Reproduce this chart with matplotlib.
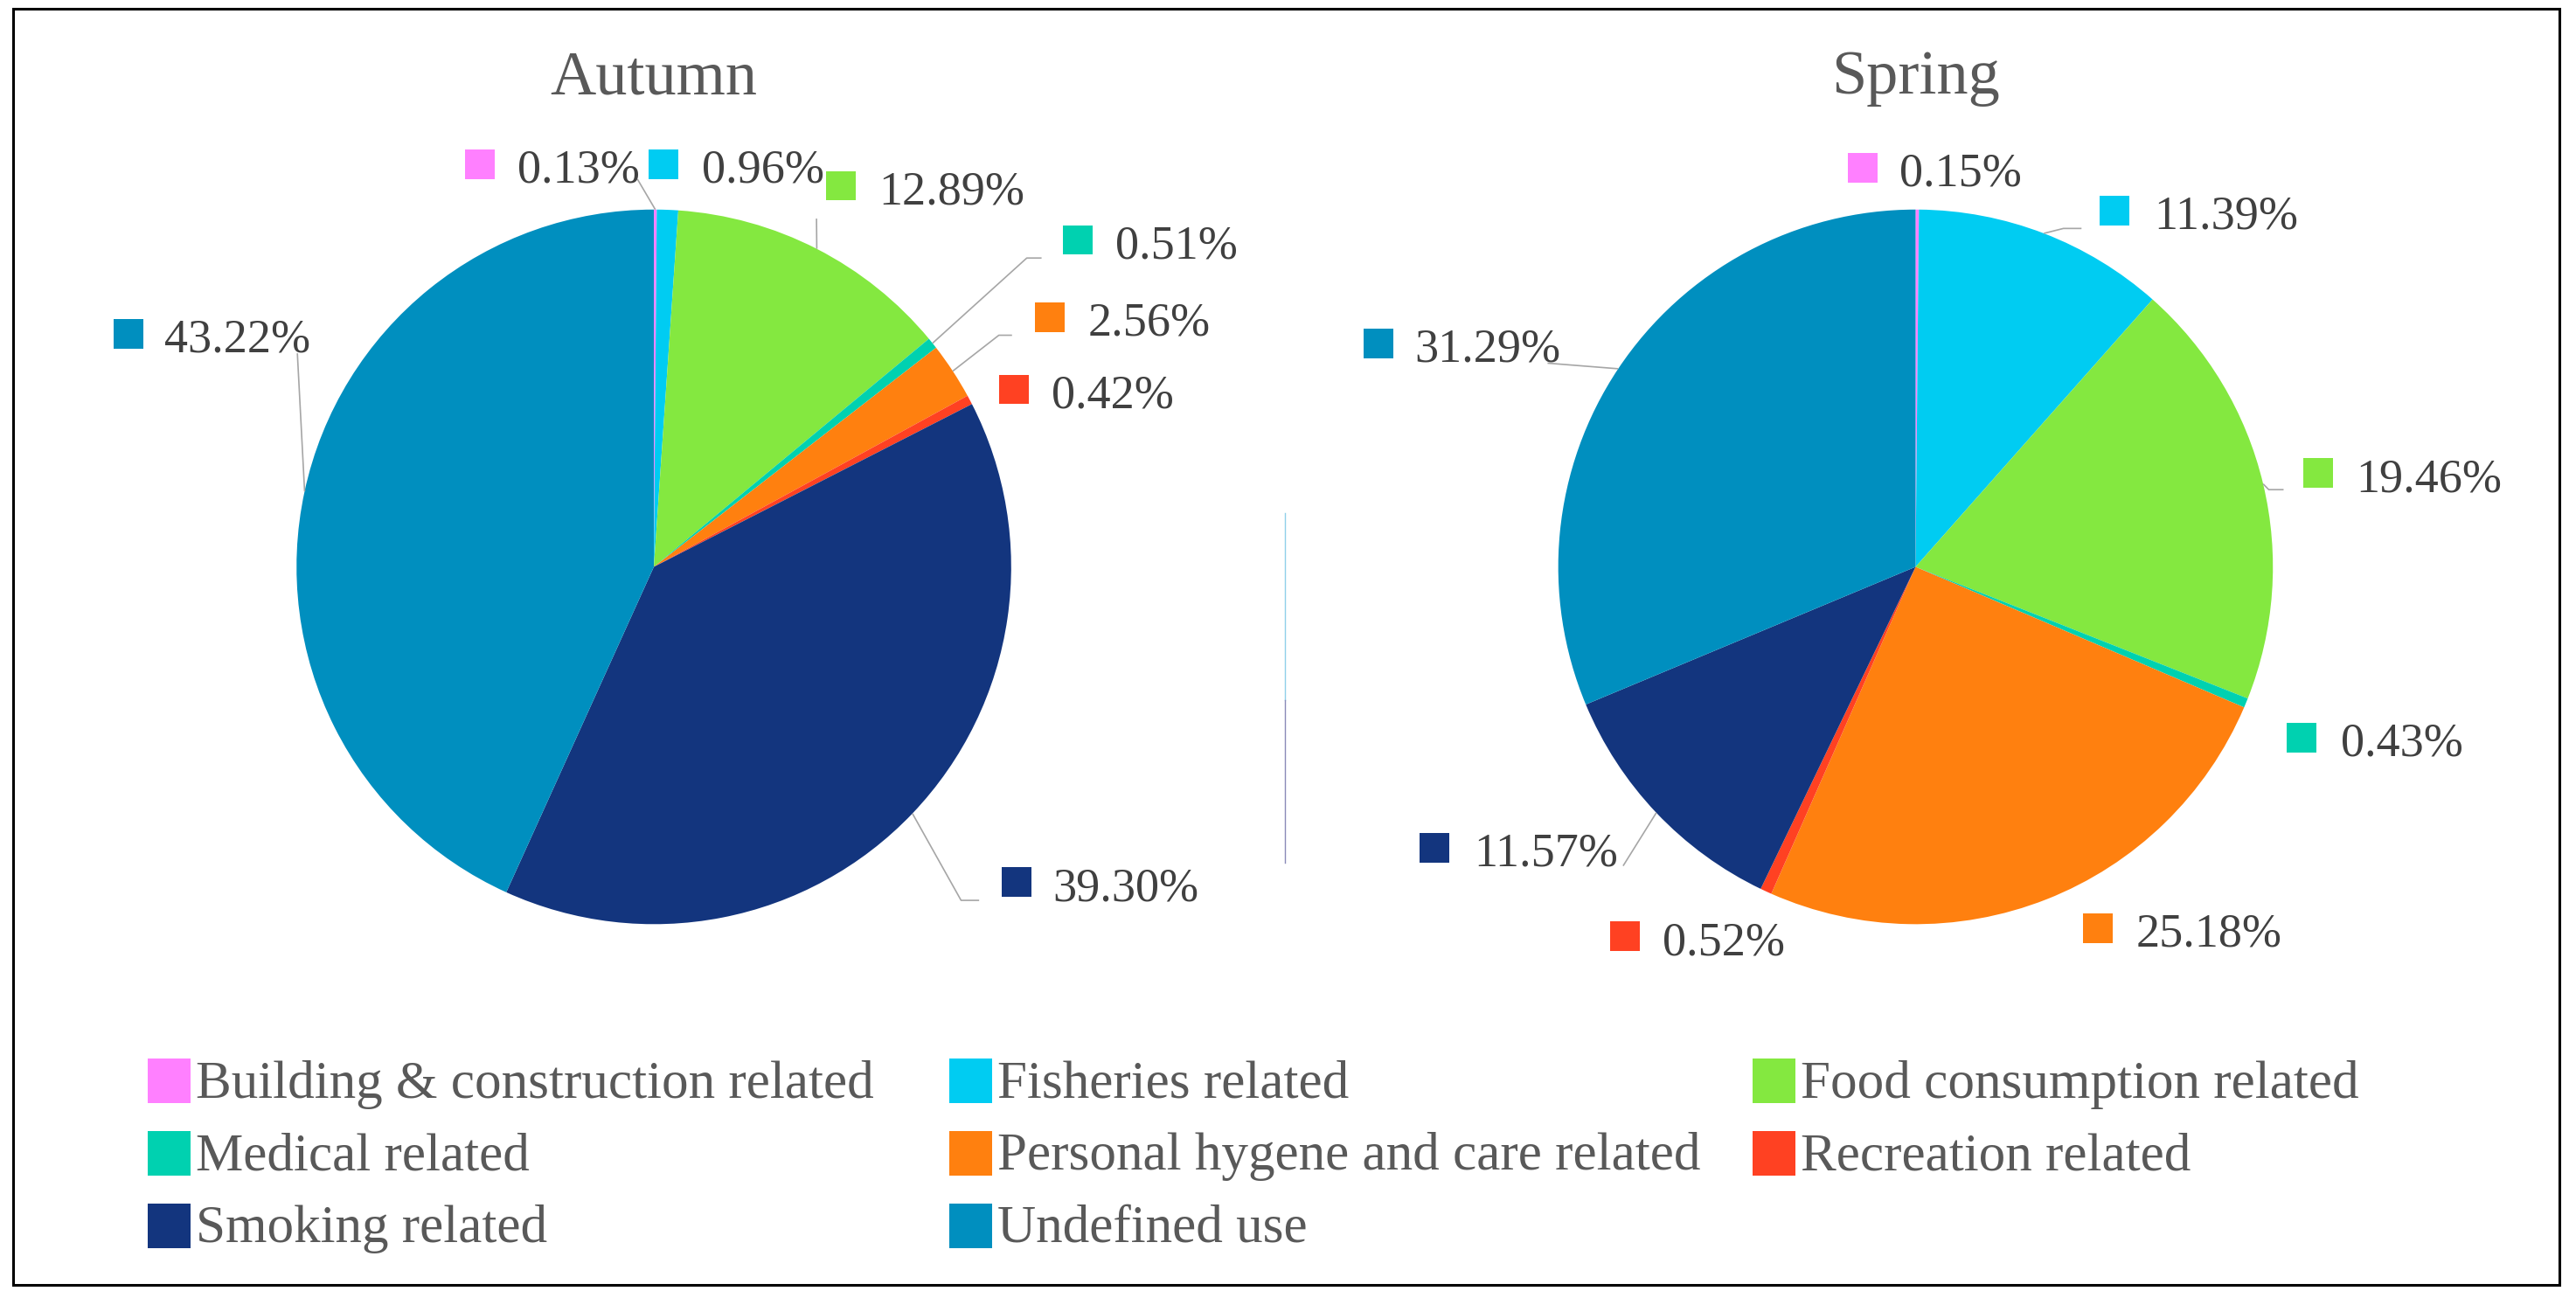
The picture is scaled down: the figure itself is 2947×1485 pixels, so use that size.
import matplotlib.pyplot as plt
from matplotlib.patches import Rectangle
import numpy as np

# ---- data ----
categories = ["Building & construction related", "Fisheries related",
              "Food consumption related", "Medical related",
              "Personal hygene and care related", "Recreation related",
              "Smoking related", "Undefined use"]
autumn = [0.13, 0.96, 12.89, 0.51, 2.56, 0.42, 39.30, 43.22]
spring = [0.15, 11.39, 19.46, 0.43, 25.18, 0.52, 11.57, 31.29]
seasons = ["Autumn", "Spring"]

colors = ["#FF80FF", "#00CCF2", "#84E840", "#00D1B0",
          "#FF800F", "#FF4122", "#13357E", "#008FBF"]

# ---- layout (units of a 1568 x 790 canvas, y measured from the top) ----
W, H = 1568, 790
FONT = "Liberation Serif"


def yy(y):
    return H - y


pie_centers = [(398, 345), (1166, 345)]
pie_radius = 217.5

# label placement: (marker left x, marker centre y, text x)
label_pos = [
    [(283, 100, 315), (395, 100, 427), (503, 113, 535), (647, 146, 679),
     (630, 193, 662), (608, 237, 640), (610, 537, 641), (69, 203, 100)],
    [(1125, 102, 1156), (1278, 128, 1311), (1402, 288, 1434), (1392, 449, 1425),
     (1268, 565, 1300), (980, 570, 1012), (864, 516, 897), (830, 209, 861)],
]
# leader lines: label-side points, the wedge edge point is added later
leaders = [
    {0: [(388, 109)], 2: [(497, 133)], 3: [(634, 157), (625, 157)],
     4: [(616, 204), (608, 204)], 6: [(596, 548), (585, 548)], 7: [(181, 215)]},
    {1: [(1267, 139), (1256, 139)], 2: [(1390, 298), (1381, 298)],
     6: [(988, 527)], 7: [(942, 221)]},
]

fig = plt.figure(figsize=(29.47, 14.85), dpi=100)
ax = fig.add_axes([0, 0, 1, 1])

for k, vals in enumerate([autumn, spring]):
    cx, cy = pie_centers[k]
    wedges, _ = ax.pie(vals, colors=colors, startangle=90, counterclock=False,
                       center=(cx, yy(cy)), radius=pie_radius, frame=True,
                       wedgeprops=dict(linewidth=0))
    ax.text(cx, yy(57), seasons[k], ha="center", va="baseline",
            fontsize=52, color="#595959", family=FONT)

    for i, w in enumerate(wedges):
        mx, my, tx = label_pos[k][i]
        ax.add_patch(Rectangle((mx, yy(my + 9)), 18, 18, color=colors[i], lw=0))
        ax.text(tx, yy(my + 11), f"{vals[i]:.2f}%", ha="left", va="baseline",
                fontsize=39, color="#404040", family=FONT)
        if i in leaders[k]:
            mid = np.deg2rad((w.theta1 + w.theta2) / 2)
            ex = cx + pie_radius * np.cos(mid)
            ey = yy(cy) + pie_radius * np.sin(mid)
            pts = [(px, yy(py)) for px, py in leaders[k][i]] + [(ex, ey)]
            ax.plot([p[0] for p in pts], [p[1] for p in pts],
                    color="#A6A6A6", lw=1.2, solid_capstyle="butt")

# faint divider left over between the two charts
ax.plot([782, 782], [yy(312), yy(426)], color="#8FD0EA", lw=1.0)
ax.plot([782, 782], [yy(426), yy(525)], color="#8A8AB8", lw=1.0)

# legend
leg_cols = [90, 578, 1067]
leg_rows = [658, 702, 746]
for i, name in enumerate(categories):
    lx = leg_cols[i % 3]
    ly = leg_rows[i // 3]
    ax.add_patch(Rectangle((lx, yy(ly + 13.5)), 26, 27, color=colors[i], lw=0))
    ax.text(lx + 29, yy(ly + 10), name, ha="left", va="baseline",
            fontsize=44, color="#595959", family=FONT)

# outer frame
ax.add_patch(Rectangle((8, yy(782)), 1550, 777, fill=False, ec="black", lw=2.2))

ax.set_xlim(0, W)
ax.set_ylim(0, H)
ax.axis("off")

fig.savefig("out.png", dpi=100, facecolor="white")
